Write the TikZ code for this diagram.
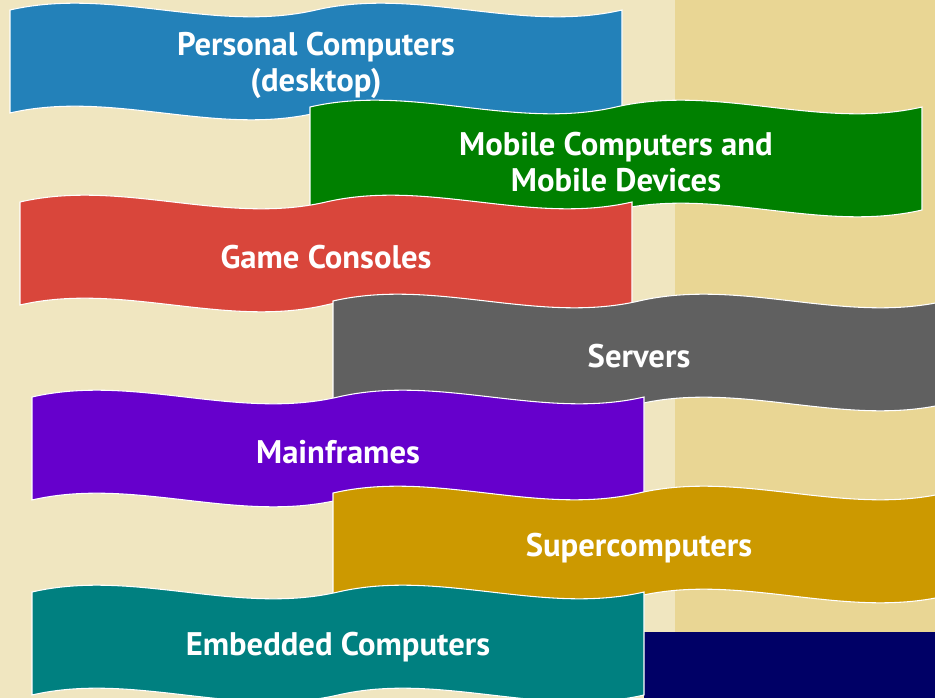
\documentclass[tikz,border=0pt]{standalone}
\usepackage{fontspec}
\setmainfont{PT Sans}
\usepackage{tikz}
\usetikzlibrary{positioning}
\definecolor{bglight}{HTML}{F0E6C0}
\definecolor{bgtan}{HTML}{E9D694}
\definecolor{navybox}{HTML}{000066}
\definecolor{pcblue}{HTML}{2381B9}
\definecolor{mobgreen}{HTML}{008000}
\definecolor{gamered}{HTML}{D9463B}
\definecolor{servgrey}{HTML}{606060}
\definecolor{mainpurple}{HTML}{6600CC}
\definecolor{supergold}{HTML}{CC9900}
\definecolor{embteal}{HTML}{008080}
\tikzset{
    banner/.style={fill=#1, draw=white, line width=0.8pt},
    bannertext/.style={text=white, font=\fontsize{24.5}{27}\selectfont\bfseries, align=center}
}

\begin{document}
\begin{tikzpicture}[x=0.75pt, y=-0.75pt]
    % Frame and background
    \useasboundingbox (0,0) rectangle (935,698);
    \clip (0,0) rectangle (935,698);
    \fill[bglight] (0,0) rectangle (675,698);
    \fill[bgtan] (675,0) rectangle (935,698);
    \fill[navybox] (644,632) rectangle (935,698);
    % Wavy banners, top to bottom
    \foreach \bx/\by/\col/\nm/\txt in {
        10/10/pcblue/pc/{Personal Computers\\(desktop)},
        310/107/mobgreen/mobile/{Mobile Computers and\\Mobile Devices},
        20/202/gamered/game/{Game Consoles},
        333/301/servgrey/servers/{Servers},
        32/397/mainpurple/mainframes/{Mainframes},
        333/493/supergold/super/{Supercomputers},
        32/592/embteal/embedded/{Embedded Computers}} {
        \begin{scope}[shift={(\bx,\by)}]
            \filldraw[banner=\col] (0,0)
                .. controls (102,-23.6) and (204,23.6) .. (306,0)
                .. controls (408,-23.6) and (510,23.6) .. (612,0) -- (612,103)
                .. controls (510,126.6) and (408,79.4) .. (306,103)
                .. controls (204,126.6) and (102,79.4) .. (0,103) -- cycle;
            \node[bannertext] (\nm) at (306,55) {\txt};
        \end{scope}
    }
\end{tikzpicture}
\end{document}
